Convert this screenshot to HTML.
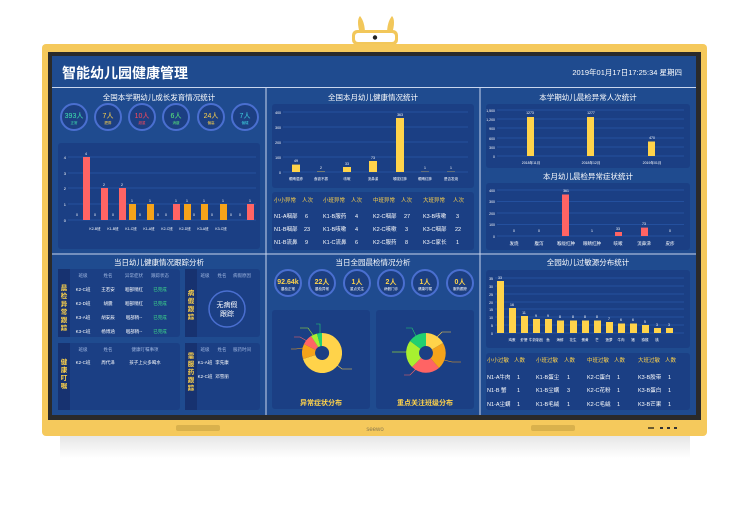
<!DOCTYPE html>
<html><head><meta charset="utf-8"><style>
html,body{margin:0;padding:0;background:#fff;width:750px;height:517px;overflow:hidden}
svg text{font-family:"Liberation Sans","Noto Sans CJK SC",sans-serif}
</style></head><body>
<svg width="750" height="517" viewBox="0 0 750 517" xmlns="http://www.w3.org/2000/svg">
<defs>
<linearGradient id="sh" x1="0" y1="0" x2="0" y2="1"><stop offset="0" stop-color="#e6e6e6"/><stop offset="1" stop-color="#ffffff"/></linearGradient>
</defs>
<rect x="60" y="436" width="630" height="22" fill="url(#sh)"/>
<!-- rabbit camera -->
<path d="M360 34 Q356 20 360 16 Q365 22 365 34Z" fill="#f2c75a"/>
<path d="M392 34 Q396 20 392 16 Q387 22 387 34Z" fill="#f2c75a"/>
<rect x="352" y="30" width="46" height="15" rx="5" fill="#f2c75a"/>
<rect x="355" y="33" width="40" height="9" rx="3" fill="#fff"/>
<circle cx="375" cy="37.5" r="2.2" fill="#222"/>
<!-- frame -->
<rect x="42" y="44" width="665" height="392" rx="4" fill="#f5c95c"/>
<rect x="48" y="52" width="653" height="368" fill="#2a2a2a"/>
<rect x="52" y="56" width="644" height="359" fill="#1f4b8f"/>
<rect x="176" y="425" width="44" height="6" rx="2" fill="#d9b14c"/>
<rect x="531" y="425" width="44" height="6" rx="2" fill="#d9b14c"/>
<text x="375" y="431" font-size="6" fill="#8a7a50" text-anchor="middle">seewo</text>
<rect x="648" y="427" width="6" height="2" fill="#6a5a30"/><rect x="660" y="427" width="3" height="2" fill="#333"/><rect x="667" y="427" width="3" height="2" fill="#333"/><rect x="674" y="427" width="3" height="2" fill="#333"/>
<!-- header -->
<text x="62" y="78" font-size="14" font-weight="bold" fill="#fff">智能幼儿园健康管理</text>
<text x="682" y="75" font-size="7.5" fill="#fff" text-anchor="end">2019年01月17日17:25:34  星期四</text>
<line x1="52" y1="87.5" x2="696" y2="87.5" stroke="#c9d6ee" stroke-width="1"/>
<line x1="52" y1="254" x2="696" y2="254" stroke="#c9d6ee" stroke-width="1"/>
<line x1="266" y1="88" x2="266" y2="415" stroke="#c9d6ee" stroke-width="1"/>
<line x1="480" y1="88" x2="480" y2="415" stroke="#c9d6ee" stroke-width="1"/>
<!-- panel titles -->
<g font-size="7.5" fill="#fff" text-anchor="middle">
<text x="159" y="100">全国本学期幼儿成长发育情况统计</text>
<text x="373" y="100">全国本月幼儿健康情况统计</text>
<text x="588" y="100">本学期幼儿晨检异常人次统计</text>
<text x="588" y="179">本月幼儿晨检异常症状统计</text>
<text x="159" y="265">当日幼儿健康情况跟踪分析</text>
<text x="373" y="265">当日全园晨检情况分析</text>
<text x="588" y="265">全园幼儿过敏源分布统计</text>
</g>
<!-- Panel1 circles -->
<g fill="#1c3f82" stroke="#4a6fd0" stroke-width="2">
<circle cx="74" cy="117" r="13"/><circle cx="108" cy="117" r="13"/><circle cx="142" cy="117" r="13"/><circle cx="176" cy="117" r="13"/><circle cx="211" cy="117" r="13"/><circle cx="245" cy="117" r="13"/>
</g>
<g font-size="7" text-anchor="middle">
<text x="74" y="118" fill="#3fe0b0">393人</text><text x="74" y="124" font-size="3.5" fill="#3fe0b0">正常</text>
<text x="108" y="118" fill="#ffd34a">7人</text><text x="108" y="124" font-size="3.5" fill="#ffd34a">肥胖</text>
<text x="142" y="118" fill="#ff4a5a">10人</text><text x="142" y="124" font-size="3.5" fill="#ff4a5a">超重</text>
<text x="176" y="118" fill="#5aef7a">6人</text><text x="176" y="124" font-size="3.5" fill="#5aef7a">消瘦</text>
<text x="211" y="118" fill="#ffd34a">24人</text><text x="211" y="124" font-size="3.5" fill="#ffd34a">偏高</text>
<text x="245" y="118" fill="#3fd0e0">7人</text><text x="245" y="124" font-size="3.5" fill="#3fd0e0">偏矮</text>
</g>
<!-- cards -->
<g fill="#1b3f84">
<rect x="58" y="143" width="202" height="106" rx="3"/>
<rect x="272" y="104" width="202" height="84" rx="3"/>
<rect x="272" y="192" width="202" height="58" rx="3"/>
<rect x="486" y="104" width="204" height="64" rx="3"/>
<rect x="486" y="183" width="204" height="67" rx="3"/>
<rect x="58" y="269" width="122" height="68" rx="3"/>
<rect x="185" y="269" width="75" height="68" rx="3"/>
<rect x="58" y="343" width="122" height="67" rx="3"/>
<rect x="185" y="343" width="75" height="67" rx="3"/>
<rect x="272" y="310" width="98" height="99" rx="3"/>
<rect x="376" y="310" width="98" height="99" rx="3"/>
<rect x="486" y="270" width="204" height="78" rx="3"/>
<rect x="486" y="353" width="204" height="57" rx="3"/>
</g>
<g fill="#173270">
<rect x="58" y="269" width="12" height="68"/><rect x="185" y="269" width="12" height="68"/>
<rect x="58" y="343" width="12" height="67"/><rect x="185" y="343" width="12" height="67"/>
</g>
<!-- chart1 -->
<g stroke="#2f62b8" stroke-width="0.6">
<line x1="68" y1="157" x2="256" y2="157"/><line x1="68" y1="173" x2="256" y2="173"/><line x1="68" y1="188" x2="256" y2="188"/><line x1="68" y1="204" x2="256" y2="204"/><line x1="68" y1="220" x2="256" y2="220"/>
</g>
<g font-size="4" fill="#fff" text-anchor="end"><text x="66" y="159">4</text><text x="66" y="175">3</text><text x="66" y="190">2</text><text x="66" y="206">1</text><text x="66" y="222">0</text></g>
<g fill="#ff6464">
<rect x="83" y="157" width="7" height="63"/><rect x="101" y="188" width="7" height="32"/><rect x="119" y="188" width="7" height="32"/><rect x="173" y="204" width="7" height="16"/><rect x="247" y="204" width="7" height="16"/>
</g>
<g fill="#f5a31a">
<rect x="129" y="204" width="7" height="16"/><rect x="147" y="204" width="7" height="16"/><rect x="184" y="204" width="7" height="16"/><rect x="201" y="204" width="7" height="16"/><rect x="220" y="204" width="7" height="16"/>
</g>
<g font-size="3.5" fill="#fff" text-anchor="middle">
<text x="86" y="155">4</text><text x="104" y="186">2</text><text x="122" y="186">2</text><text x="132" y="202">1</text><text x="150" y="202">1</text><text x="176" y="202">1</text><text x="187" y="202">1</text><text x="204" y="202">1</text><text x="223" y="202">1</text><text x="250" y="202">1</text>
<text x="77" y="216">0</text><text x="95" y="216">0</text><text x="113" y="216">0</text><text x="140" y="216">0</text><text x="158" y="216">0</text><text x="166" y="216">0</text><text x="194" y="216">0</text><text x="212" y="216">0</text><text x="231" y="216">0</text><text x="240" y="216">0</text>
<text x="95" y="230">K2-B班</text><text x="113" y="230">K1-B班</text><text x="131" y="230">K1-C班</text><text x="149" y="230">K1-A班</text><text x="167" y="230">K2-C班</text><text x="185" y="230">K2-D班</text><text x="203" y="230">K3-A班</text><text x="221" y="230">K3-C班</text>
</g>
<!-- chart2 -->
<g stroke="#2f62b8" stroke-width="0.6">
<line x1="283" y1="112" x2="468" y2="112"/><line x1="283" y1="127" x2="468" y2="127"/><line x1="283" y1="142" x2="468" y2="142"/><line x1="283" y1="157" x2="468" y2="157"/><line x1="283" y1="172" x2="468" y2="172"/>
</g>
<g font-size="3.5" fill="#fff" text-anchor="end"><text x="281" y="114">400</text><text x="281" y="129">300</text><text x="281" y="144">200</text><text x="281" y="159">100</text><text x="281" y="174">0</text></g>
<g fill="#ffd34a">
<rect x="292" y="164.6" width="8" height="7.4"/><rect x="317" y="171.6" width="8" height="0.4"/><rect x="343" y="167" width="8" height="5"/><rect x="369" y="161" width="8" height="11"/><rect x="396" y="118" width="8" height="54"/><rect x="421" y="171.7" width="8" height="0.3"/><rect x="447" y="171.7" width="8" height="0.3"/>
</g>
<g font-size="3.5" fill="#fff" text-anchor="middle">
<text x="296" y="162">49</text><text x="321" y="169">2</text><text x="347" y="165">33</text><text x="373" y="159">73</text><text x="400" y="116">363</text><text x="425" y="169">1</text><text x="451" y="169">1</text>
<text x="296" y="180">眼睛湿疹</text><text x="321" y="180">食欲不振</text><text x="347" y="180">咳嗽</text><text x="373" y="180">流鼻涕</text><text x="400" y="180">喉咙红肿</text><text x="425" y="180">眼睛红肿</text><text x="451" y="180">是否发烧</text>
</g>
<!-- table2 -->
<g font-size="5.5" fill="#ffd34a"><text x="274" y="202">小小异常</text><text x="302" y="202">人次</text><text x="323" y="202">小班异常</text><text x="351" y="202">人次</text><text x="373" y="202">中班异常</text><text x="401" y="202">人次</text><text x="423" y="202">大班异常</text><text x="453" y="202">人次</text></g>
<g font-size="5.5" fill="#fff">
<text x="274" y="218">N1-A咽部</text><text x="305" y="218">6</text><text x="323" y="218">K1-B服药</text><text x="355" y="218">4</text><text x="373" y="218">K2-C咽部</text><text x="404" y="218">27</text><text x="423" y="218">K3-B咳嗽</text><text x="456" y="218">3</text>
<text x="274" y="231">N1-B咽部</text><text x="304" y="231">23</text><text x="323" y="231">K1-B咳嗽</text><text x="355" y="231">4</text><text x="373" y="231">K2-C咳嗽</text><text x="405" y="231">3</text><text x="423" y="231">K3-C咽部</text><text x="455" y="231">22</text>
<text x="274" y="244">N1-B流鼻</text><text x="305" y="244">9</text><text x="323" y="244">K1-C流鼻</text><text x="355" y="244">6</text><text x="373" y="244">K2-C服药</text><text x="405" y="244">8</text><text x="423" y="244">K3-C家长</text><text x="456" y="244">1</text>
</g>
<!-- chart3 -->
<g stroke="#2f62b8" stroke-width="0.6">
<line x1="497" y1="110" x2="684" y2="110"/><line x1="497" y1="119" x2="684" y2="119"/><line x1="497" y1="128" x2="684" y2="128"/><line x1="497" y1="138" x2="684" y2="138"/><line x1="497" y1="147" x2="684" y2="147"/><line x1="497" y1="156" x2="684" y2="156"/>
</g>
<g font-size="3.5" fill="#fff" text-anchor="end"><text x="495" y="112">1,500</text><text x="495" y="121">1,200</text><text x="495" y="130">900</text><text x="495" y="140">600</text><text x="495" y="149">300</text><text x="495" y="158">0</text></g>
<g fill="#ffd34a"><rect x="527" y="117" width="7" height="39"/><rect x="587" y="117" width="7" height="39"/><rect x="648" y="141.5" width="7" height="14.5"/></g>
<g font-size="3.5" fill="#fff" text-anchor="middle"><text x="530" y="114">1273</text><text x="591" y="114">1277</text><text x="652" y="139">470</text>
<text x="531" y="164">2018年11月</text><text x="591" y="164">2018年12月</text><text x="652" y="164">2019年01月</text></g>
<!-- chart4 -->
<g stroke="#2f62b8" stroke-width="0.6">
<line x1="497" y1="190" x2="684" y2="190"/><line x1="497" y1="201.5" x2="684" y2="201.5"/><line x1="497" y1="213" x2="684" y2="213"/><line x1="497" y1="224.5" x2="684" y2="224.5"/><line x1="497" y1="236" x2="684" y2="236"/>
</g>
<g font-size="3.5" fill="#fff" text-anchor="end"><text x="495" y="192">400</text><text x="495" y="203">300</text><text x="495" y="215">200</text><text x="495" y="226">100</text><text x="495" y="238">0</text></g>
<g fill="#ff6464"><rect x="562" y="194.5" width="7" height="41.5"/><rect x="615" y="232" width="7" height="4"/><rect x="641" y="227.6" width="7" height="8.4"/></g>
<g font-size="3.5" fill="#fff" text-anchor="middle"><text x="514" y="232">0</text><text x="539" y="232">0</text><text x="566" y="192">361</text><text x="592" y="232">1</text><text x="618" y="230">33</text><text x="644" y="225">73</text><text x="670" y="232">0</text></g>
<g font-size="4.5" fill="#fff" text-anchor="middle"><text x="514" y="245">发烧</text><text x="539" y="245">腹泻</text><text x="566" y="245">喉咙红肿</text><text x="592" y="245">眼睛红肿</text><text x="618" y="245">咳嗽</text><text x="644" y="245">流鼻涕</text><text x="670" y="245">皮疹</text></g>
<!-- panel4 -->
<g font-size="6.5" fill="#ffd34a" text-anchor="middle" font-weight="bold">
<text x="64" y="290">晨</text><text x="64" y="298">检</text><text x="64" y="306">异</text><text x="64" y="314">常</text><text x="64" y="322">跟</text><text x="64" y="330">踪</text>
<text x="191" y="295">病</text><text x="191" y="303">假</text><text x="191" y="311">跟</text><text x="191" y="319">踪</text>
<text x="64" y="364">健</text><text x="64" y="372">康</text><text x="64" y="380">叮</text><text x="64" y="388">嘱</text>
<text x="191" y="358">需</text><text x="191" y="366">服</text><text x="191" y="374">药</text><text x="191" y="382">跟</text><text x="191" y="390">踪</text>
</g>
<g font-size="4.5" fill="#9fb6e0" text-anchor="middle">
<text x="83" y="277">班级</text><text x="108" y="277">姓名</text><text x="134" y="277">异常症状</text><text x="160" y="277">跟踪状态</text>
<text x="205" y="277">班级</text><text x="222" y="277">姓名</text><text x="242" y="277">病假原因</text>
<text x="83" y="351">班级</text><text x="108" y="351">姓名</text><text x="145" y="351">健康叮嘱事项</text>
<text x="205" y="351">班级</text><text x="222" y="351">姓名</text><text x="242" y="351">服药时间</text>
</g>
<g font-size="4.5" fill="#fff" text-anchor="middle">
<text x="83" y="291">K2-C班</text><text x="108" y="291">王若安</text><text x="134" y="291">咽部稍红</text><text x="160" y="291" fill="#3fe08a">已完成</text>
<text x="83" y="305">K2-D班</text><text x="108" y="305">胡震</text><text x="134" y="305">咽部稍红</text><text x="160" y="305" fill="#3fe08a">已完成</text>
<text x="83" y="319">K3-A班</text><text x="108" y="319">胡安辰</text><text x="134" y="319">咽部稍--</text><text x="160" y="319" fill="#3fe08a">已完成</text>
<text x="83" y="333">K3-C班</text><text x="108" y="333">杨博涵</text><text x="134" y="333">咽部稍--</text><text x="160" y="333" fill="#3fe08a">已完成</text>
<text x="83" y="364">K2-C班</text><text x="108" y="364">周代泽</text><text x="145" y="364">孩子上火多喝水</text>
<text x="205" y="364">K1-A班</text><text x="222" y="364">李先康</text>
<text x="205" y="378">K2-C班</text><text x="222" y="378">邓雪丽</text>
</g>
<circle cx="227" cy="309" r="18" fill="none" stroke="#4a6fd0" stroke-width="1.5"/>
<text x="227" y="307" font-size="7" fill="#fff" text-anchor="middle">无病假</text>
<text x="227" y="316" font-size="7" fill="#fff" text-anchor="middle">跟踪</text>
<!-- panel5 circles -->
<g fill="#1c3f82" stroke="#4a6fd0" stroke-width="2">
<circle cx="288" cy="283" r="13"/><circle cx="322" cy="283" r="13"/><circle cx="357" cy="283" r="13"/><circle cx="391" cy="283" r="13"/><circle cx="425" cy="283" r="13"/><circle cx="460" cy="283" r="13"/>
</g>
<g font-size="7" fill="#ffd34a" text-anchor="middle" font-weight="bold">
<text x="288" y="284">92.64k</text><text x="322" y="284">22人</text><text x="357" y="284">1人</text><text x="391" y="284">2人</text><text x="425" y="284">1人</text><text x="460" y="284">0人</text>
</g>
<g font-size="3.5" fill="#fff" text-anchor="middle">
<text x="288" y="290">晨检正常</text><text x="322" y="290">晨检异常</text><text x="357" y="290">重点关注</text><text x="391" y="290">病假门诊</text><text x="425" y="290">健康叮嘱</text><text x="460" y="290">服药跟踪</text>
</g>
<!-- donut1 -->
<g transform="translate(322,353)">
<path d="M0 -20 A20 20 0 1 1 -19 6 L-6.6 2 A7 7 0 1 0 0 -7Z" fill="#ffd34a"/>
<path d="M-19 6 A20 20 0 0 1 -18 -9 L-6.3 -3 A7 7 0 0 0 -6.6 2Z" fill="#f5a31a"/>
<path d="M-18 -9 A20 20 0 0 1 -11 -17 L-3.8 -6 A7 7 0 0 0 -6.3 -3Z" fill="#ff6464"/>
<path d="M-11 -17 A20 20 0 0 1 -5 -19.4 L-1.7 -6.8 A7 7 0 0 0 -3.8 -6Z" fill="#a8f030"/>
<path d="M-5 -19.4 A20 20 0 0 1 0 -20 L0 -7 A7 7 0 0 0 -1.7 -6.8Z" fill="#22d070"/>
</g>
<!-- donut2 -->
<g transform="translate(426,353)">
<path d="M0 -20 A20 20 0 0 1 17 -10 L6 -3.5 A7 7 0 0 0 0 -7Z" fill="#ffd34a"/>
<path d="M17 -10 A20 20 0 0 1 13 15 L4.5 5.3 A7 7 0 0 0 6 -3.5Z" fill="#f5a31a"/>
<path d="M13 15 A20 20 0 0 1 -14 14 L-4.9 4.9 A7 7 0 0 0 4.5 5.3Z" fill="#ff6464"/>
<path d="M-14 14 A20 20 0 0 1 -16 -12 L-5.6 -4.2 A7 7 0 0 0 -4.9 4.9Z" fill="#a8f030"/>
<path d="M-16 -12 A20 20 0 0 1 0 -20 L0 -7 A7 7 0 0 0 -5.6 -4.2Z" fill="#22d070"/>
</g>
<g stroke-width="0.6" fill="none">
<polyline points="337,365 342,369 352,369" stroke="#ffd34a"/><polyline points="303,348 296,349 291,349" stroke="#f5a31a"/><polyline points="307,341 300,337 294,337" stroke="#ff6464"/><polyline points="313,335 308,328 300,328" stroke="#a8f030"/><polyline points="320,333 320,324 316,324" stroke="#22d070"/>
<polyline points="437,337 442,332 451,332" stroke="#ffd34a"/><polyline points="444,360 452,362 461,362" stroke="#f5a31a"/><polyline points="416,369 410,375 404,375" stroke="#ff6464"/><polyline points="407,352 398,352 392,352" stroke="#a8f030"/><polyline points="416,336 412,328 406,328" stroke="#22d070"/>
</g>
<text x="321" y="405" font-size="7" fill="#ffd34a" text-anchor="middle" font-weight="bold">异常症状分布</text>
<text x="425" y="405" font-size="7" fill="#ffd34a" text-anchor="middle" font-weight="bold">重点关注班级分布</text>
<!-- chart6 -->
<g stroke="#2f62b8" stroke-width="0.6">
<line x1="495" y1="278" x2="684" y2="278"/><line x1="495" y1="286" x2="684" y2="286"/><line x1="495" y1="294" x2="684" y2="294"/><line x1="495" y1="302" x2="684" y2="302"/><line x1="495" y1="309" x2="684" y2="309"/><line x1="495" y1="317" x2="684" y2="317"/><line x1="495" y1="325" x2="684" y2="325"/><line x1="495" y1="333" x2="684" y2="333"/>
</g>
<g font-size="3.5" fill="#fff" text-anchor="end"><text x="493" y="280">35</text><text x="493" y="288">30</text><text x="493" y="296">25</text><text x="493" y="304">20</text><text x="493" y="311">15</text><text x="493" y="319">10</text><text x="493" y="327">5</text><text x="493" y="335">0</text></g>
<g fill="#ffd34a">
<rect x="497" y="281" width="7" height="52"/><rect x="509" y="308" width="7" height="25"/><rect x="521" y="316" width="7" height="17"/><rect x="533" y="319" width="7" height="14"/><rect x="545" y="319" width="7" height="14"/><rect x="557" y="320.5" width="7" height="12.5"/><rect x="570" y="320.5" width="7" height="12.5"/><rect x="582" y="320.5" width="7" height="12.5"/><rect x="594" y="320.5" width="7" height="12.5"/><rect x="606" y="322" width="7" height="11"/><rect x="618" y="323.5" width="7" height="9.5"/><rect x="630" y="323.5" width="7" height="9.5"/><rect x="642" y="325" width="7" height="8"/><rect x="654" y="328" width="7" height="5"/><rect x="666" y="328" width="7" height="5"/>
</g>
<g font-size="3.5" fill="#fff" text-anchor="middle">
<text x="500" y="279">33</text><text x="512" y="306">16</text><text x="524" y="314">11</text><text x="536" y="317">9</text><text x="548" y="317">9</text><text x="560" y="318">8</text><text x="573" y="318">8</text><text x="585" y="318">8</text><text x="597" y="318">8</text><text x="609" y="320">7</text><text x="621" y="321">6</text><text x="633" y="321">6</text><text x="645" y="323">5</text><text x="657" y="326">3</text><text x="669" y="326">3</text>
<text x="512" y="341">鸡蛋</text><text x="524" y="341">虾蟹</text><text x="536" y="341">牛奶制品</text><text x="548" y="341">鱼</text><text x="560" y="341">海鲜</text><text x="573" y="341">花生</text><text x="585" y="341">蛋黄</text><text x="597" y="341">芒</text><text x="609" y="341">菠萝</text><text x="621" y="341">牛肉</text><text x="633" y="341">猪</text><text x="645" y="341">猕猴</text><text x="657" y="341">桃</text>
</g>
<!-- table6 -->
<g font-size="5.5" fill="#ffd34a"><text x="487" y="362">小小过敏</text><text x="514" y="362">人数</text><text x="536" y="362">小班过敏</text><text x="564" y="362">人数</text><text x="587" y="362">中班过敏</text><text x="614" y="362">人数</text><text x="638" y="362">大班过敏</text><text x="665" y="362">人数</text></g>
<g font-size="5.5" fill="#fff">
<text x="487" y="379">N1-A牛肉</text><text x="517" y="379">1</text><text x="536" y="379">K1-B蛋尘</text><text x="567" y="379">1</text><text x="587" y="379">K2-C蛋白</text><text x="617" y="379">1</text><text x="638" y="379">K3-B胶带</text><text x="668" y="379">1</text>
<text x="487" y="392">N1-B 蟹</text><text x="517" y="392">1</text><text x="536" y="392">K1-B尘螨</text><text x="567" y="392">3</text><text x="587" y="392">K2-C花粉</text><text x="617" y="392">1</text><text x="638" y="392">K3-B蛋白</text><text x="668" y="392">1</text>
<text x="487" y="406">N1-A尘螨</text><text x="517" y="406">1</text><text x="536" y="406">K1-B毛絨</text><text x="567" y="406">1</text><text x="587" y="406">K2-C毛絨</text><text x="617" y="406">1</text><text x="638" y="406">K3-B芒果</text><text x="668" y="406">1</text>
</g>
</svg>
</body></html>
